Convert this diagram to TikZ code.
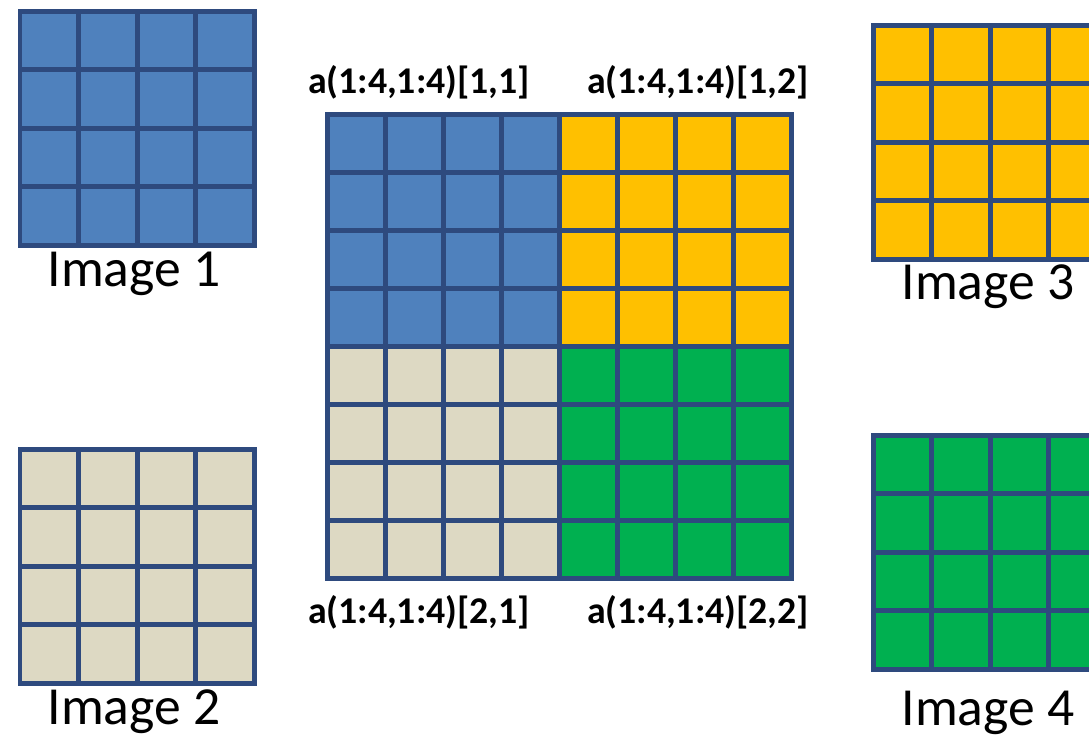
\documentclass[tikz,border=0pt]{standalone}
\usepackage{fontspec}
\setmainfont{Carlito}
\usepackage{tikz}
\usetikzlibrary{positioning, calc}
\definecolor{gridline}{HTML}{2E4A7E}
\definecolor{imgblue}{HTML}{4F81BD}
\definecolor{imgtan}{HTML}{DDD9C3}
\definecolor{imgyellow}{HTML}{FFC000}
\definecolor{imggreen}{HTML}{00B050}
% one 4x4 block of pixels: x, y (top left), cell size, fill colour
\newcommand{\pixblock}[4]{%
  \fill[#4] (#1,#2) rectangle ++(4*#3,4*#3);
  \foreach \k in {1,2,3} {
    \draw[gridline, line width=0.1cm] ($(#1,#2)+(\k*#3,0)$) -- ++(0,4*#3);
    \draw[gridline, line width=0.1cm] ($(#1,#2)+(0,\k*#3)$) -- ++(4*#3,0);
  }
  \draw[gridline, line width=0.1cm] (#1,#2) rectangle ++(4*#3,4*#3);
}
\tikzset{
  imglabel/.style={font=\fontsize{30.5}{34}\selectfont, anchor=base, inner sep=0pt},
  quadlabel/.style={font=\fontsize{21.5}{24}\selectfont\bfseries, anchor=base, inner sep=0pt}
}

\begin{document}
\begin{tikzpicture}[x=0.02cm, y=-0.02cm]
\useasboundingbox[fill=white] (0,0) rectangle (1089,738);
% small images
\pixblock{20}{11}{58.5}{imgblue}
\pixblock{20}{449}{58.5}{imgtan}
\pixblock{873}{25}{58.5}{imgyellow}
\pixblock{873}{435}{58.5}{imggreen}
\node[imglabel] (img1) at (134,286) {Image 1};
\node[imglabel] (img2) at (134,724) {Image 2};
\node[imglabel] (img3) at (988,299) {Image 3};
\node[imglabel] (img4) at (988,725) {Image 4};
% combined image
\pixblock{327}{114}{58}{imgblue}
\pixblock{559}{114}{58}{imgyellow}
\pixblock{327}{346}{58}{imgtan}
\pixblock{559}{346}{58}{imggreen}
\draw[gridline, line width=0.1cm] (327,114) rectangle (791,578);
\node[quadlabel] (q11) at (419,93) {a(1:4,1:4)[1,1]};
\node[quadlabel] (q12) at (698,93) {a(1:4,1:4)[1,2]};
\node[quadlabel] (q21) at (419,623) {a(1:4,1:4)[2,1]};
\node[quadlabel] (q22) at (698,623) {a(1:4,1:4)[2,2]};
\end{tikzpicture}
\end{document}
